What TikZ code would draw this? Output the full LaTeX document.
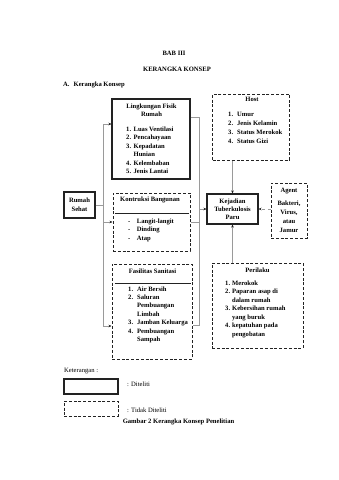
\documentclass[tikz,border=0pt]{standalone}
\usepackage{fontspec}
\setmainfont{Liberation Serif}
\usetikzlibrary{positioning,arrows.meta}
\definecolor{inkgrey}{HTML}{222222}
\definecolor{linkgrey}{HTML}{9A9A9A}
\tikzset{
  dit/.style={rectangle, draw=inkgrey, line width=1.1pt, inner sep=0pt},
  tdit/.style={rectangle, draw=inkgrey, line width=1pt,
               dash pattern=on 3pt off 1.8pt, inner sep=0pt},
  sz/.style 2 args={minimum width=#1pt, minimum height=#2pt},
  ttl/.style={font=\fontsize{6.6}{8}\selectfont\bfseries, align=center, inner sep=0pt},
  lst/.style={font=\fontsize{6.6}{8.5}\selectfont\bfseries, inner sep=0pt, anchor=base west},
  plain/.style={font=\fontsize{6.6}{8}\selectfont, inner sep=0pt},
  ln/.style={draw=linkgrey, line width=0.6pt},
  ar/.style={ln, -{Stealth[length=3pt,width=2.6pt,color=inkgrey]}},
  hrule/.style={draw=inkgrey, line width=1.2pt},
}

\begin{document}
\begin{tikzpicture}[x=1pt,y=-1pt]
  \useasboundingbox (0,0) rectangle (339,480);

  % judul
  \node[ttl] (bab) at (174,53) {BAB III};
  \node[ttl] (judul) at (177,69) {KERANGKA KONSEP};
  \node[ttl, anchor=west] (sub) at (63,85) {A.\hspace{4pt}Kerangka Konsep};

  % kotak
  \node[dit, sz={78}{80}] (lfr) at (151,139) {};
  \node[tdit, sz={77}{66}] (host) at (251,127) {};
  \node[dit, sz={31}{26}, ttl, font=\fontsize{6.6}{9}\selectfont\bfseries] (rs) at (79.5,205) {Rumah\\Sehat};
  \node[tdit, sz={77}{58}] (kb) at (151.5,222) {};
  \node[dit, sz={51}{30}, ttl, font=\fontsize{6.6}{7.8}\selectfont\bfseries] (kj) at (232.5,209) {Kejadian\\Tuberkulosis\\Paru};
  \node[tdit, sz={36}{55}, ttl, font=\fontsize{6.6}{9.3}\selectfont\bfseries] (ag) at (289,210.5) {Agent\\[3.5pt]Bakteri,\\Virus,\\atau\\Jamur};
  \node[tdit, sz={80}{95}] (fs) at (152,311.5) {};
  \node[tdit, sz={91}{85}] (pr) at (257.5,305.5) {};

  % isi kotak
  \node[ttl] (lfrT) at (151.5,110) {Lingkungan Fisik\\Rumah};
  \node[lst] (lfrL) at (126,131) {\begin{tabular}[t]{@{}l@{\hspace{2.5pt}}l@{}}
    1. & Luas Ventilasi\\ 2. & Pencahayaan\\ 3. & Kepadatan\\ & Hunian\\
    4. & Kelembaban\\ 5. & Jenis Lantai\end{tabular}};

  \node[ttl] (hostT) at (252,99) {Host};
  \node[lst, font=\fontsize{6.6}{9.1}\selectfont\bfseries] (hostL) at (228,116) {\begin{tabular}[t]{@{}l@{\hspace{4pt}}l@{}}
    1. & Umur\\ 2. & Jenis Kelamin\\ 3. & Status Merokok\\ 4. & Status Gizi\end{tabular}};

  \node[ttl] (kbT) at (150,200) {Kontruksi Bangunan};
  \draw[hrule] ([shift={(2,21)}]kb.north west) -- ([shift={(-2,21)}]kb.north east);
  \node[lst] (kbL) at (128,223) {\begin{tabular}[t]{@{}l@{\hspace{6.5pt}}l@{}}
    - & Langit-langit\\ - & Dinding\\ - & Atap\end{tabular}};

  \node[ttl] (fsT) at (152.5,271) {Fasilitas Sanitasi};
  \draw[hrule] ([shift={(3,20)}]fs.north west) -- ([shift={(-2,20)}]fs.north east);
  \node[lst, font=\fontsize{6.6}{8.4}\selectfont\bfseries] (fsL) at (128,291) {\begin{tabular}[t]{@{}l@{\hspace{4pt}}l@{}}
    1. & Air Bersih\\ 2. & Saluran\\ & Pembuangan\\ & Limbah\\
    3. & Jamban Keluarga\\ 4. & Pembuangan\\ & Sampah\end{tabular}};

  \node[ttl] (prT) at (257.5,270) {Perilaku};
  \node[lst, font=\fontsize{6.6}{8.45}\selectfont\bfseries] (prL) at (225,285.3) {\begin{tabular}[t]{@{}l@{\hspace{2pt}}l@{}}
    1. & Merokok\\ 2. & Paparan asap di\\ & dalam rumah\\ 3. & Kebersihan rumah\\
    & yang buruk\\ 4. & kepatuhan pada\\ & pengobatan\end{tabular}};

  % garis penghubung
  \coordinate (busL) at (103,205);
  \coordinate (busR) at (199,209);
  \draw[ln] (rs.east) -- (busL);
  \draw[ar] (busL) |- ([yshift=15pt]lfr.west);
  \draw[ar] (busL) |- (kb.west);
  \draw[ar] (busL) |- ([yshift=-14.5pt]fs.west);
  \draw[ln] ([yshift=22pt]lfr.east) -| (busR);
  \draw[ln] ([yshift=-13.5pt]fs.east) -| (busR);
  \draw[ln] (kb.east) -- (kb.east -| busR);
  \draw[ar] (busR) -- (kj.west);
  \draw[ar] (kj.north |- host.south) -- (kj.north);
  \draw[ar] (kj.south |- pr.north) -- (kj.south);
  \draw[ar, dashed] (ag.west |- kj.east) -- (kj.east);

  % keterangan
  \node[plain, anchor=west] (ket) at (64,371) {Keterangan :};
  \node[dit, sz={54}{15}] (legA) at (91,386.5) {};
  \node[plain, anchor=west] (legAT) at (127,384) {: Diteliti};
  \node[tdit, sz={54}{15}] (legB) at (91,408.5) {};
  \node[plain, anchor=west] (legBT) at (127,410) {: Tidak Diteliti};
  \node[ttl] (cap) at (178.5,422) {Gambar 2 Kerangka Konsep Penelitian};
\end{tikzpicture}
\end{document}
